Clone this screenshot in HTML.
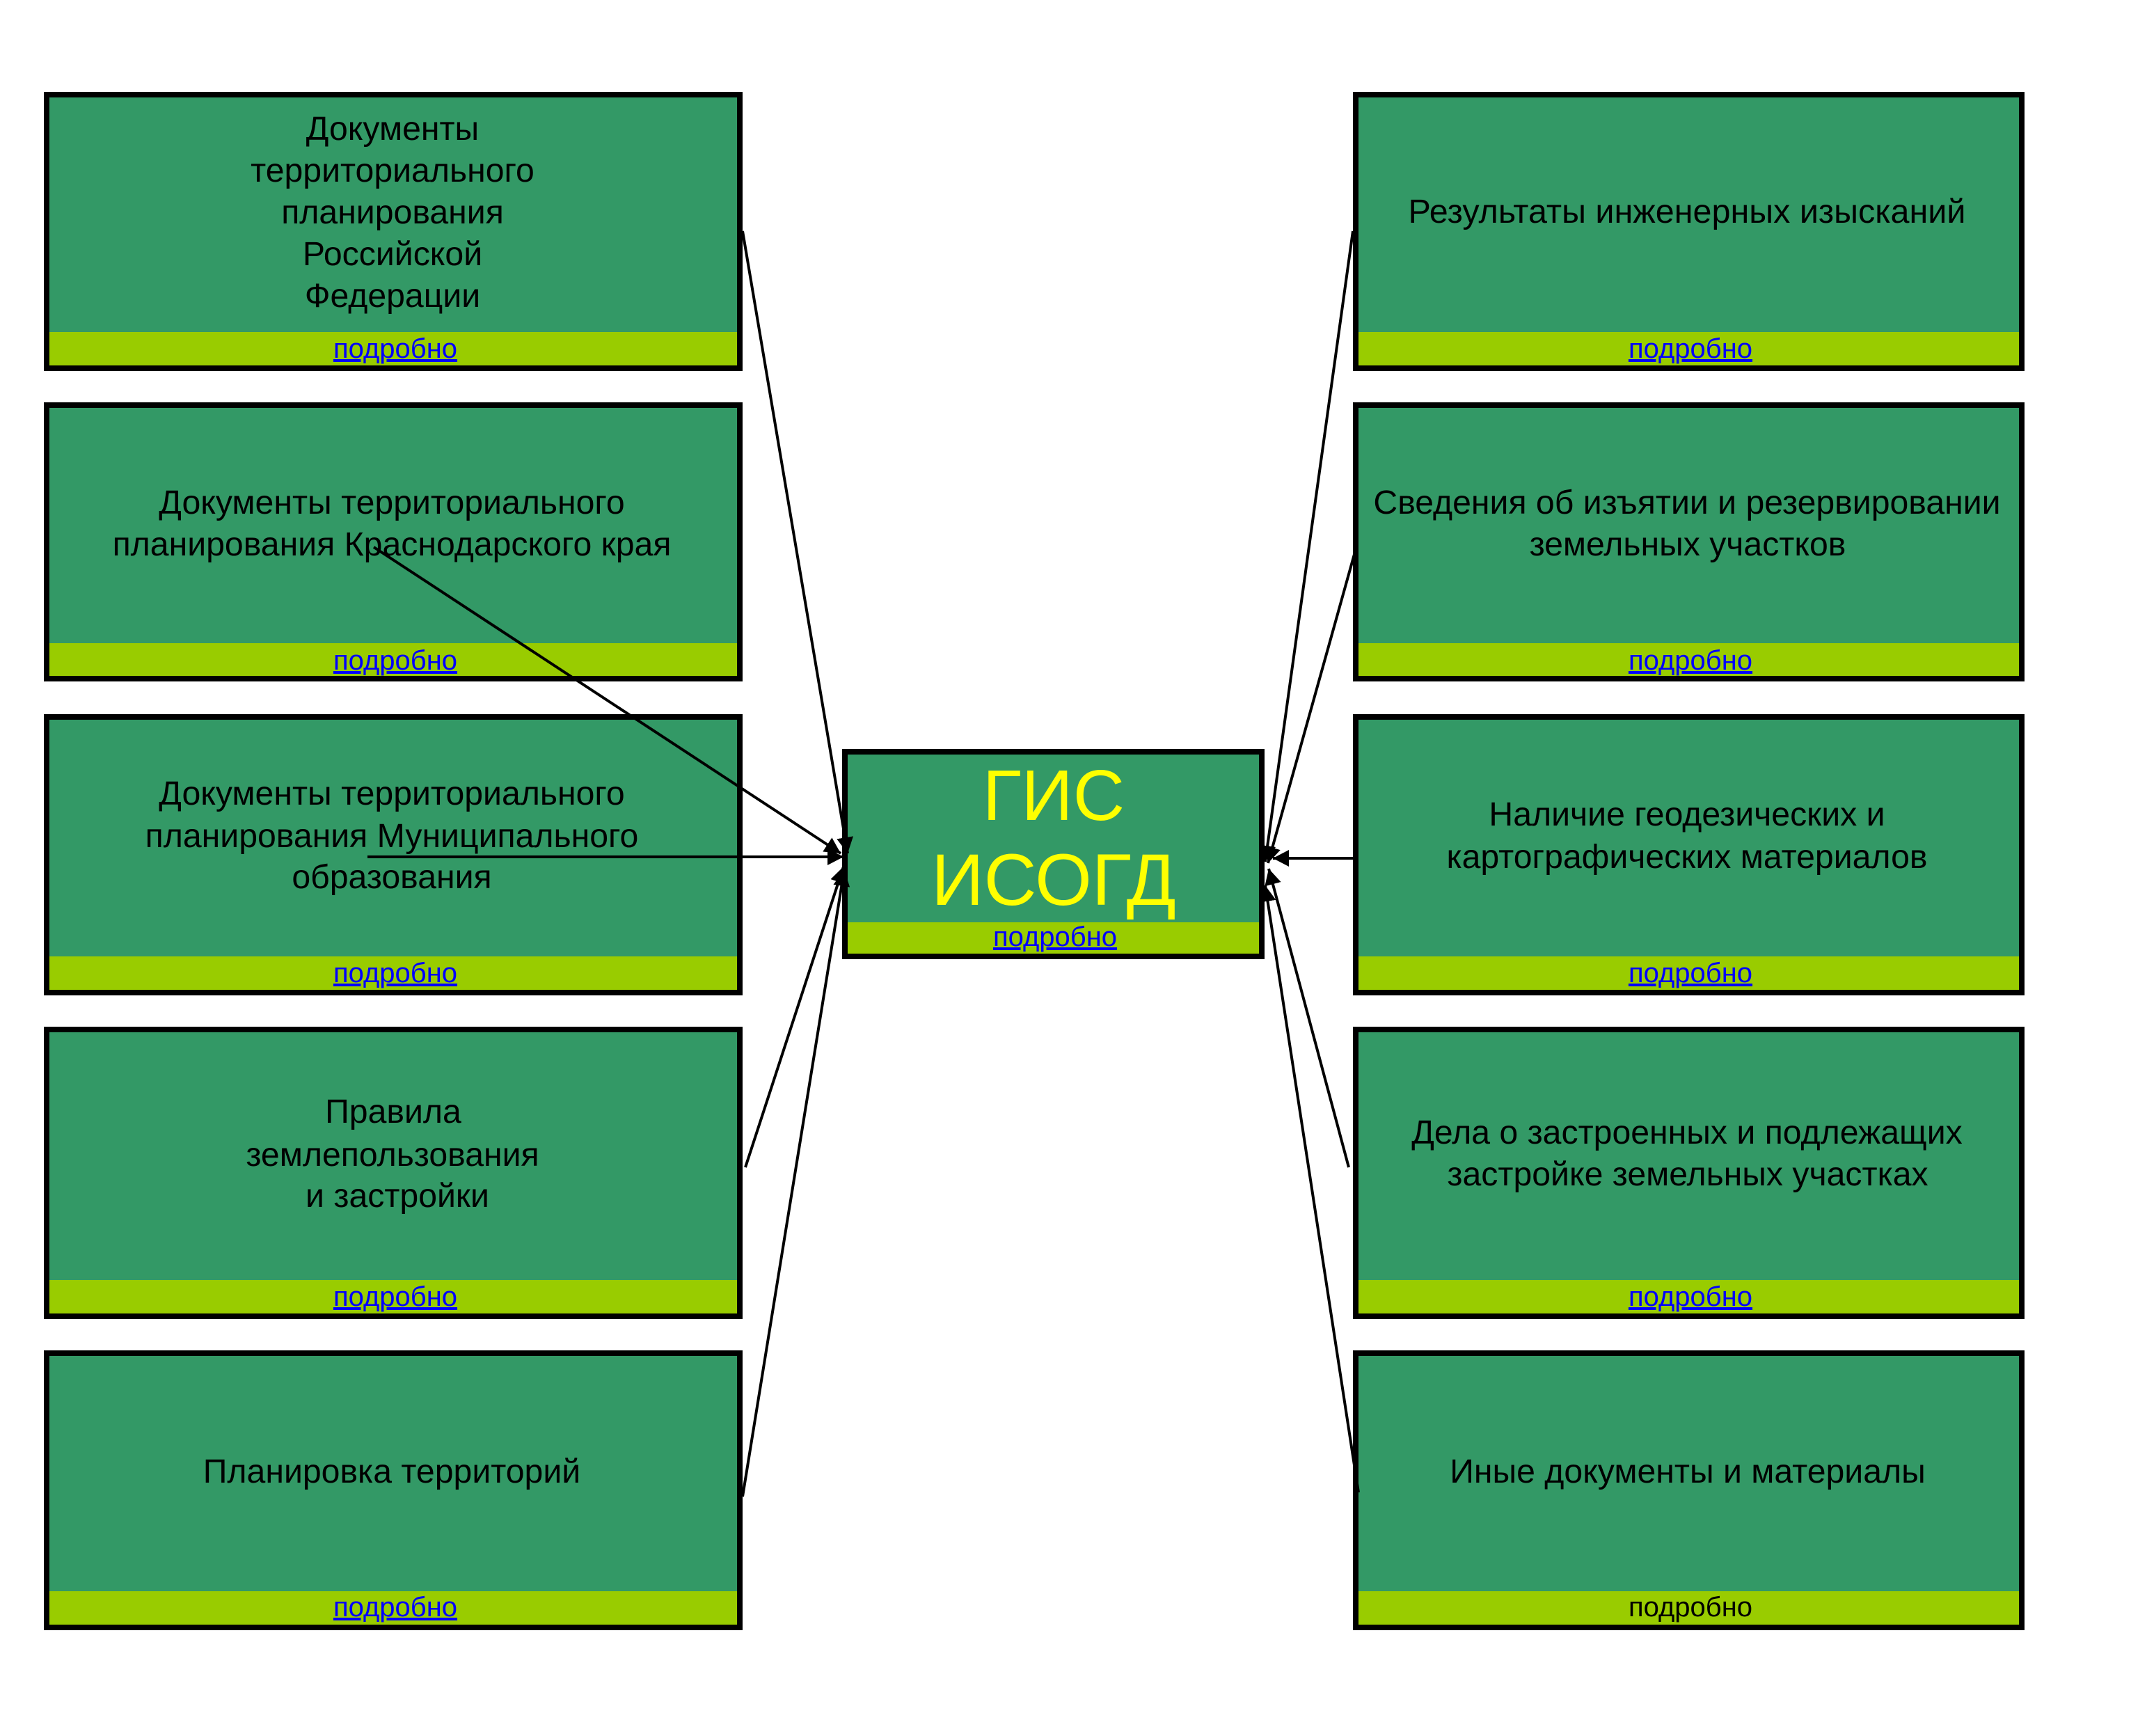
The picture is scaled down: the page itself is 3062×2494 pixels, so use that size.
<!DOCTYPE html>
<html><head><meta charset="utf-8"><style>
html,body{margin:0;padding:0;background:#fff}
svg{display:block}
text{font-family:"Liberation Sans",sans-serif;text-anchor:middle}
.t{font-size:48.2px;fill:#000}
.l{font-size:40px;fill:#00f;text-decoration:underline}
.b{font-size:40px;fill:#000}
.g{fill:#396}
.y{fill:#9c0}
line{stroke:#000;stroke-width:4}
</style></head><body>
<svg width="3062" height="2494" viewBox="0 0 3062 2494" xmlns="http://www.w3.org/2000/svg">
<defs><marker id="a" markerUnits="userSpaceOnUse" markerWidth="24" markerHeight="24" viewBox="0 0 24 24" refX="23" refY="12" orient="auto"><path d="M0 0L23 12L0 24z" fill="#000"/></marker></defs>
<rect width="3062" height="2494" fill="#fff"/>

<rect x="63" y="132" width="1004" height="401"/><rect class="g" x="71" y="140" width="988" height="337"/><rect class="y" x="71" y="477" width="988" height="48"/>
<rect x="63" y="578" width="1004" height="401"/><rect class="g" x="71" y="586" width="988" height="338"/><rect class="y" x="71" y="924" width="988" height="47"/>
<rect x="63" y="1026" width="1004" height="404"/><rect class="g" x="71" y="1034" width="988" height="340"/><rect class="y" x="71" y="1374" width="988" height="48"/>
<rect x="63" y="1475" width="1004" height="420"/><rect class="g" x="71" y="1483" width="988" height="356"/><rect class="y" x="71" y="1839" width="988" height="48"/>
<rect x="63" y="1940" width="1004" height="402"/><rect class="g" x="71" y="1948" width="988" height="338"/><rect class="y" x="71" y="2286" width="988" height="48"/>

<rect x="1944" y="132" width="965" height="401"/><rect class="g" x="1952" y="140" width="949" height="337"/><rect class="y" x="1952" y="477" width="949" height="48"/>
<rect x="1944" y="578" width="965" height="401"/><rect class="g" x="1952" y="586" width="949" height="338"/><rect class="y" x="1952" y="924" width="949" height="47"/>
<rect x="1944" y="1026" width="965" height="404"/><rect class="g" x="1952" y="1034" width="949" height="340"/><rect class="y" x="1952" y="1374" width="949" height="48"/>
<rect x="1944" y="1475" width="965" height="420"/><rect class="g" x="1952" y="1483" width="949" height="356"/><rect class="y" x="1952" y="1839" width="949" height="48"/>
<rect x="1944" y="1940" width="965" height="402"/><rect class="g" x="1952" y="1948" width="949" height="338"/><rect class="y" x="1952" y="2286" width="949" height="48"/>

<rect x="1210" y="1076" width="607" height="302"/><rect class="g" x="1218" y="1084" width="591" height="241"/><rect class="y" x="1218" y="1325" width="591" height="45"/>

<text class="t" x="564" y="201">Документы</text>
<text class="t" x="564" y="261">территориального</text>
<text class="t" x="564" y="321">планирования</text>
<text class="t" x="564" y="381">Российской</text>
<text class="t" x="564" y="441">Федерации</text>
<text class="t" x="563" y="738">Документы территориального</text>
<text class="t" x="563" y="798">планирования Краснодарского края</text>
<text class="t" x="563" y="1156">Документы территориального</text>
<text class="t" x="563" y="1217">планирования Муниципального</text>
<text class="t" x="563" y="1276">образования</text>
<text class="t" x="565" y="1613">Правила</text>
<text class="t" x="564" y="1675">землепользования</text>
<text class="t" x="571" y="1734">и застройки</text>
<text class="t" x="563" y="2130">Планировка территорий</text>

<text class="t" x="2424" y="320" style="font-size:48.5px">Результаты инженерных изысканий</text>
<text class="t" x="2424" y="738">Сведения об изъятии и резервировании</text>
<text class="t" x="2425" y="798">земельных участков</text>
<text class="t" x="2424" y="1186">Наличие геодезических и</text>
<text class="t" x="2424" y="1247">картографических материалов</text>
<text class="t" x="2424" y="1643">Дела о застроенных и подлежащих</text>
<text class="t" x="2425" y="1703">застройке земельных участках</text>
<text class="t" x="2425" y="2130">Иные документы и материалы</text>

<text class="l" x="568" y="514">подробно</text>
<text class="l" x="568" y="962">подробно</text>
<text class="l" x="568" y="1411">подробно</text>
<text class="l" x="568" y="1876">подробно</text>
<text class="l" x="568" y="2322">подробно</text>
<text class="l" x="2429" y="514">подробно</text>
<text class="l" x="2429" y="962">подробно</text>
<text class="l" x="2429" y="1411">подробно</text>
<text class="l" x="2429" y="1876">подробно</text>
<text class="b" x="2429" y="2322">подробно</text>

<text x="1514" y="1178" font-size="103" fill="#ff0">ГИС</text>
<text x="1514" y="1300" font-size="105" fill="#ff0">ИСОГД</text>
<text class="l" x="1516" y="1359">подробно</text>

<line x1="1067" y1="332" x2="1218" y2="1226" marker-end="url(#a)"/>
<line x1="537" y1="786" x2="1208" y2="1226" marker-end="url(#a)"/>
<line x1="528" y1="1231" x2="1212" y2="1231" marker-end="url(#a)"/>
<line x1="1071" y1="1677" x2="1212" y2="1245" marker-end="url(#a)"/>
<line x1="1067" y1="2150" x2="1213" y2="1250" marker-end="url(#a)"/>

<line x1="1944" y1="332" x2="1818" y2="1238" marker-end="url(#a)"/>
<line x1="1950" y1="782" x2="1822" y2="1240" marker-end="url(#a)"/>
<line x1="1946" y1="1233" x2="1829" y2="1233" marker-end="url(#a)"/>
<line x1="1938" y1="1677" x2="1823" y2="1248" marker-end="url(#a)"/>
<line x1="1952" y1="2144" x2="1818" y2="1272" marker-end="url(#a)"/>
</svg>
</body></html>
